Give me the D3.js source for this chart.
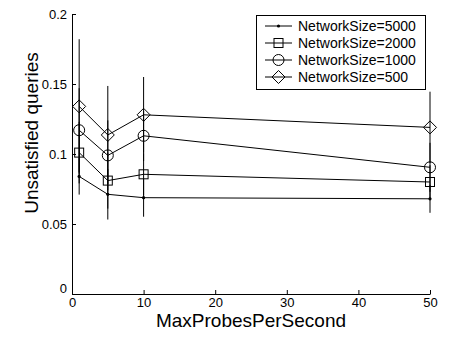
<!DOCTYPE html>
<html>
<head>
<meta charset="utf-8">
<script src="https://cdn.jsdelivr.net/npm/d3@7"></script>
<style>
  html, body { margin: 0; padding: 0; background: #fff; }
  svg { display: block; font-family: "Liberation Sans", Arial, sans-serif; }
</style>
</head>
<body>
<svg id="chart" width="451" height="337"></svg>
<script>
// ---- data ----
var probes = [1, 5, 10, 50];
var seriesNames = ["NetworkSize=5000", "NetworkSize=2000", "NetworkSize=1000", "NetworkSize=500"];
var markers = ["dot", "square", "circle", "diamond"];

var size5000 = [0.084, 0.0712, 0.0688, 0.068];
var size2000 = [0.101, 0.081, 0.0855, 0.080];
var size1000 = [0.117, 0.099, 0.113, 0.0905];
var size500  = [0.134, 0.1136, 0.128, 0.119];

var err5000 = [0.013, 0.018, 0.0136, 0.010];
var err2000 = [0.022, 0.020, 0.015, 0.012];
var err1000 = [0.030, 0.025, 0.018, 0.0175];
var err500  = [0.048, 0.035, 0.027, 0.0255];

var xTicks = [0, 10, 20, 30, 40, 50];
var yTicks = [0, 0.05, 0.1, 0.15, 0.2];

var values = [size5000, size2000, size1000, size500];
var errors = [err5000, err2000, err1000, err500];

// ---- scales ----
var svg = d3.select("#chart");
var x = d3.scaleLinear().domain([0, 50]).range([72, 430]);
var y = d3.scaleLinear().domain([0, 0.2]).range([294, 14]);

// draw a marker of a given type centered at cx, cy
function drawMarker(g, type, cx, cy) {
  if (type === "dot") {
    g.append("circle").attr("cx", cx).attr("cy", cy).attr("r", 1.6).attr("fill", "#000");
  } else if (type === "square") {
    g.append("rect").attr("x", cx - 4.5).attr("y", cy - 4.5).attr("width", 9).attr("height", 9)
      .attr("fill", "none").attr("stroke", "#000");
  } else if (type === "circle") {
    g.append("circle").attr("cx", cx).attr("cy", cy).attr("r", 5.5)
      .attr("fill", "none").attr("stroke", "#000");
  } else if (type === "diamond") {
    var s = 6.5;
    g.append("path").attr("d", "M" + cx + "," + (cy - s) + "L" + (cx + s) + "," + cy + "L" + cx + "," + (cy + s) + "L" + (cx - s) + "," + cy + "Z")
      .attr("fill", "none").attr("stroke", "#000");
  }
}

var plot = svg.append("g");

// error bars
values.forEach(function (vals, si) {
  plot.selectAll(".eb" + si)
    .data(vals)
    .enter().append("line")
    .attr("x1", function (d, i) { return x(probes[i]); })
    .attr("x2", function (d, i) { return x(probes[i]); })
    .attr("y1", function (d, i) { return y(d - errors[si][i]); })
    .attr("y2", function (d, i) { return y(d + errors[si][i]); })
    .attr("stroke", "#000")
    .attr("stroke-width", 1);
});

// lines + markers
var line = d3.line()
  .x(function (d, i) { return x(probes[i]); })
  .y(function (d) { return y(d); });

values.forEach(function (vals, si) {
  plot.append("path")
    .attr("d", line(vals))
    .attr("fill", "none")
    .attr("stroke", "#000")
    .attr("stroke-width", 1);
  vals.forEach(function (d, i) {
    drawMarker(plot, markers[si], x(probes[i]), y(d));
  });
});

// ---- axes (ticks pointing inward) ----
var xAxis = svg.append("g")
  .attr("transform", "translate(0," + y(0) + ")")
  .call(d3.axisBottom(x).tickValues(xTicks).tickSizeInner(-4).tickSizeOuter(0).tickPadding(6).tickFormat(d3.format("d")));
var yAxis = svg.append("g")
  .attr("transform", "translate(" + x(0) + ",0)")
  .call(d3.axisLeft(y).tickValues(yTicks).tickSizeInner(-4).tickSizeOuter(0).tickPadding(5)
    .tickFormat(function (d) { return d === 0 ? "0" : d3.format("")(+d.toFixed(2)); }));

[xAxis, yAxis].forEach(function (a) {
  a.selectAll("text").attr("font-size", 13).attr("fill", "#000").attr("font-family", "Liberation Sans, Arial, sans-serif");
  a.selectAll("line").attr("stroke", "#000");
  a.select(".domain").attr("stroke", "#000");
});
// MATLAB-like placement of the zero labels
xAxis.selectAll(".tick text").attr("dy", "0.5em");
yAxis.selectAll(".tick").filter(function (d) { return d === 0; }).select("text").attr("dy", "-0.1em");

// axis titles
svg.append("text")
  .attr("x", (x(0) + x(50)) / 2)
  .attr("y", 327)
  .attr("text-anchor", "middle")
  .attr("font-size", 19)
  .text("MaxProbesPerSecond");

svg.append("text")
  .attr("transform", "translate(38,133) rotate(-90)")
  .attr("text-anchor", "middle")
  .attr("font-size", 19)
  .text("Unsatisfied queries");

// ---- legend ----
var legend = svg.append("g");
legend.append("rect")
  .attr("x", 256.5).attr("y", 15.5).attr("width", 169).attr("height", 74)
  .attr("fill", "#fff").attr("stroke", "#000");

seriesNames.forEach(function (name, i) {
  var ly = 26 + i * 17;
  legend.append("line")
    .attr("x1", 265).attr("x2", 292).attr("y1", ly).attr("y2", ly)
    .attr("stroke", "#000");
  drawMarker(legend, markers[i], 278.5, ly);
  legend.append("text")
    .attr("x", 298).attr("y", ly)
    .attr("dy", "0.36em")
    .attr("font-size", 14)
    .text(name);
});
</script>
</body>
</html>
